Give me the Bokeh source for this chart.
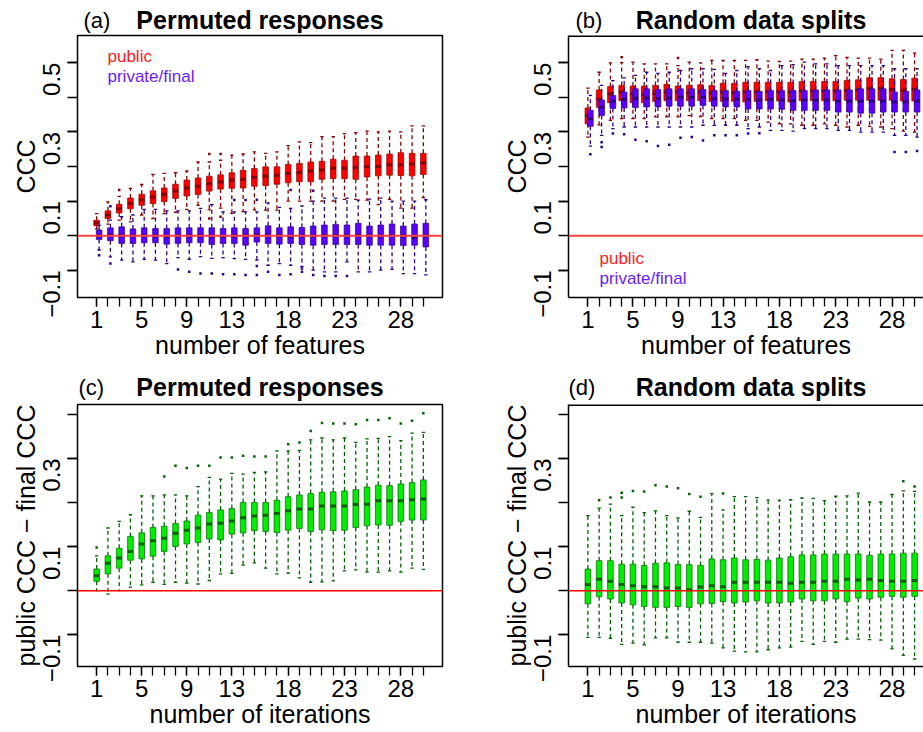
import math
from bokeh.plotting import figure
from bokeh.layouts import row, column
from bokeh.models import FixedTicker, Range1d, Label, Span
from bokeh.core.properties import value
from bokeh.embed import file_html
from bokeh.resources import INLINE

# ---------------- data ----------------
features = list(range(1, 31))
x_tick_labels = [1, 5, 9, 13, 18, 23, 28]

# (a) permuted responses, public
a_pub_lo = [.020, .034, .045, .040, .060, .050, .064, .068, .076, .088, .075, .080, .065, .070, .075,
            .074, .074, .100, .100, .100, .100, .100, .105, .105, .103, .090, .105, .080, .080, .110]
a_pub_q1 = [.029, .050, .066, .078, .088, .093, .099, .108, .115, .119, .129, .135, .137, .138, .143,
            .145, .149, .153, .156, .156, .163, .165, .165, .163, .170, .173, .175, .174, .173, .177]
a_pub_med = [.037, .060, .078, .093, .104, .112, .120, .129, .138, .143, .150, .155, .160, .163, .168,
             .172, .175, .180, .183, .187, .190, .195, .195, .197, .200, .200, .205, .205, .207, .210]
a_pub_q3 = [.045, .072, .091, .109, .120, .130, .138, .149, .161, .167, .172, .176, .182, .189, .194,
            .199, .199, .206, .209, .213, .215, .221, .218, .230, .230, .233, .236, .240, .238, .238]
a_pub_hi = [.064, .098, .114, .137, .148, .177, .180, .182, .187, .213, .213, .218, .233, .236, .242,
            .238, .242, .260, .271, .269, .286, .286, .295, .298, .302, .300, .302, .300, .317, .317]
a_pub_out_k = [3, 11, 12, 11, 12]
a_pub_out_v = [.132, .236, .236, .050, .055]

# (a) permuted responses, private/final
a_prv_lo = [-.041, -.061, -.070, -.075, -.068, -.070, -.080, -.063, -.068, -.060, -.065, -.063, -.066, -.068, -.070,
            -.085, -.080, -.085, -.089, -.099, -.104, -.104, -.075, -.104, -.104, -.099, -.097, -.109, -.109, -.113]
a_prv_q1 = [-.011, -.014, -.022, -.022, -.020, -.020, -.024, -.022, -.020, -.020, -.025, -.022, -.022, -.027, -.018,
            -.022, -.024, -.022, -.025, -.027, -.025, -.025, -.025, -.025, -.027, -.027, -.027, -.028, -.027, -.032]
a_prv_med = [.000, .002, .000, .000, .001, .000, -.001, .000, .001, .000, .000, -.001, .000, .000, .002,
             .002, .000, -.002, .000, .000, .001, .001, .000, .001, .000, .000, .001, .000, -.005, .000]
a_prv_q3 = [.017, .023, .026, .020, .023, .021, .021, .023, .023, .023, .023, .021, .023, .021, .023,
            .029, .023, .026, .024, .028, .031, .033, .031, .036, .028, .031, .034, .028, .034, .036]
a_prv_hi = [.030, .045, .055, .060, .076, .076, .072, .072, .072, .079, .090, .069, .069, .069, .069,
            .095, .082, .079, .086, .100, .109, .109, .109, .103, .106, .109, .100, .100, .100, .104]
a_prv_out_k = [1, 2, 8, 9, 10, 11, 12, 13, 14, 15, 15, 16, 17, 18, 19, 19, 20, 21, 22, 23,
               2, 13, 14, 15, 18, 20]
a_prv_out_v = [-.056, -.080, -.097, -.104, -.109, -.109, -.111, -.111, -.113, -.087, -.113, -.104, -.113, -.111,
               -.094, -.104, -.113, -.116, -.116, -.116,
               .085, .103, .103, .104, .132, .130]

# (b) random data splits, public
b_pub_lo = [.285, .320, .333, .338, .338, .338, .343, .343, .343, .347, .344, .338, .338, .338, .333,
            .333, .328, .323, .323, .319, .319, .323, .319, .314, .319, .316, .314, .309, .302, .299]
b_pub_q1 = [.323, .371, .384, .390, .384, .384, .388, .390, .390, .390, .390, .388, .388, .388, .386,
            .388, .390, .389, .386, .390, .390, .390, .390, .391, .391, .391, .391, .391, .389, .389]
b_pub_med = [.347, .395, .410, .415, .410, .408, .410, .415, .415, .413, .415, .412, .415, .413, .415,
             .415, .416, .416, .415, .418, .418, .418, .418, .420, .422, .425, .425, .422, .420, .422]
b_pub_q3 = [.369, .421, .431, .434, .432, .432, .434, .437, .432, .434, .436, .434, .440, .440, .443,
            .443, .443, .443, .443, .445, .445, .445, .445, .448, .450, .456, .456, .453, .451, .455]
b_pub_hi = [.426, .472, .499, .500, .501, .496, .496, .496, .491, .501, .499, .506, .506, .506, .506,
            .508, .504, .503, .504, .510, .510, .513, .520, .515, .513, .513, .510, .535, .535, .527]
b_pub_out_k = [4, 9]
b_pub_out_v = [.515, .513]

# (b) random data splits, private/final
b_prv_lo = [.259, .290, .309, .314, .314, .314, .314, .314, .314, .314, .319, .319, .319, .319, .309,
            .314, .304, .304, .302, .309, .309, .309, .304, .304, .299, .299, .299, .290, .290, .285]
b_prv_q1 = [.316, .347, .367, .369, .370, .372, .372, .374, .374, .374, .376, .374, .372, .372, .366,
            .366, .366, .365, .362, .362, .362, .362, .357, .357, .354, .354, .357, .357, .357, .357]
b_prv_med = [.338, .370, .388, .393, .397, .398, .396, .398, .400, .400, .399, .396, .395, .394, .393,
             .392, .393, .392, .390, .392, .392, .392, .389, .389, .388, .388, .390, .386, .387, .389]
b_prv_q3 = [.362, .392, .405, .415, .424, .424, .422, .424, .424, .424, .422, .419, .419, .417, .419,
            .417, .419, .419, .419, .419, .421, .421, .421, .421, .424, .424, .424, .415, .417, .421]
b_prv_hi = [.405, .434, .448, .456, .463, .472, .469, .472, .477, .482, .482, .480, .469, .477, .488,
            .482, .477, .491, .494, .501, .496, .496, .491, .491, .491, .491, .491, .482, .482, .482]
b_prv_out_k = [1, 2, 2, 3, 4, 5, 6, 7, 8, 9, 10, 11, 12, 13, 14, 15, 16, 28, 29, 30]
b_prv_out_v = [.235, .270, .256, .295, .293, .277, .273, .259, .263, .283, .285, .275, .290, .290, .290,
               .295, .296, .242, .242, .245]

# (c) permuted responses, public - final
c_lo = [.000, -.008, .000, .008, .013, .019, .014, .019, .017, .015, .023, .038, .039, .058, .063,
        .051, .038, .040, .029, .019, .020, .022, .045, .047, .042, .042, .045, .042, .051, .048]
c_q1 = [.021, .038, .051, .069, .072, .078, .089, .100, .106, .109, .117, .115, .128, .131, .136,
        .134, .132, .137, .141, .134, .138, .136, .137, .143, .147, .149, .148, .157, .160, .160]
c_med = [.034, .062, .074, .089, .106, .113, .119, .130, .137, .142, .151, .153, .158, .165, .169,
         .171, .175, .181, .185, .185, .192, .192, .192, .195, .196, .204, .204, .204, .206, .208]
c_q3 = [.049, .079, .096, .123, .131, .143, .146, .152, .158, .171, .177, .183, .186, .200, .200,
        .200, .205, .213, .217, .220, .223, .224, .226, .229, .235, .239, .238, .242, .245, .251]
c_hi = [.079, .142, .157, .172, .215, .215, .217, .217, .215, .236, .257, .253, .266, .264, .268,
        .269, .317, .317, .318, .342, .346, .342, .346, .336, .344, .345, .349, .340, .357, .359]
c_out_k = [1, 7, 8, 9, 10, 11, 12, 13, 14, 15, 16, 18, 19, 20, 21, 22, 23, 24, 25, 26, 27, 28, 29, 30]
c_out_v = [.098, .259, .283, .278, .283, .283, .302, .302, .306, .304, .304, .332, .336, .362, .380,
           .379, .379, .377, .387, .387, .391, .379, .385, .402]

# (d) random data splits, public - final
d_lo = [-.106, -.106, -.108, -.122, -.119, -.123, -.107, -.107, -.117, -.117, -.117, -.119, -.130, -.137, -.139,
        -.139, -.134, -.130, -.128, -.115, -.122, -.115, -.117, -.110, -.110, -.111, -.112, -.132, -.147, -.155]
d_q1 = [-.030, -.014, -.019, -.028, -.032, -.036, -.038, -.038, -.036, -.038, -.030, -.029, -.025, -.028, -.026,
        -.023, -.028, -.028, -.026, -.019, -.023, -.023, -.019, -.025, -.017, -.019, -.015, -.013, -.015, -.013]
d_med = [.014, .026, .021, .014, .011, .009, .009, .006, .006, .002, .008, .011, .009, .019, .019,
         .019, .019, .019, .017, .019, .019, .021, .021, .026, .024, .026, .023, .021, .021, .023]
d_q3 = [.049, .068, .068, .060, .060, .057, .062, .063, .059, .059, .057, .072, .070, .074, .070,
        .071, .069, .074, .077, .081, .081, .083, .083, .083, .083, .080, .083, .083, .085, .085]
d_hi = [.170, .187, .196, .170, .189, .177, .181, .170, .165, .180, .166, .220, .183, .213, .213,
        .211, .205, .205, .206, .210, .209, .204, .214, .215, .221, .201, .201, .218, .226, .225]
d_out_k = [2, 3, 4, 4, 5, 6, 7, 8, 9, 10, 11, 13, 29, 30]
d_out_v = [.205, .211, .211, .222, .226, .225, .239, .236, .232, .219, .213, .220, .248, .236]

ccc_ticks = [-0.1, 0.0, 0.1, 0.2, 0.3, 0.4, 0.5]
ccc_labels = {-0.1: "\u22120.1", 0.1: "0.1", 0.3: "0.3", 0.5: "0.5"}
diff_ticks = [-0.1, 0.0, 0.1, 0.2, 0.3, 0.4]
diff_labels = {-0.1: "\u22120.1", 0.1: "0.1", 0.3: "0.3"}

panel_tags = ["(a)", "(b)", "(c)", "(d)"]
panel_titles = ["Permuted responses", "Random data splits", "Permuted responses", "Random data splits"]
x_titles = ["number of features", "number of iterations"]
y_titles = ["CCC", "public CCC \u2212 final CCC"]

# ---------------- style ----------------
FONT = "Liberation Sans"
PUB_FILL, PUB_LINE = "#ff0000", "#8b0000"
PRV_FILL, PRV_LINE = "#5a00ff", "#2e0088"
GRN_FILL, GRN_LINE = "#00ee00", "#006400"
BOXW = 0.5
STAPLE = 0.15
TICK_FS = "24px"
LAB_FS = "25px"
TITLE_FS = "25px"


def add_boxes(p, k, lo, q1, med, q3, hi, ok, ov, fill, line, shift=0.0):
    x = [v + shift for v in k]
    p.segment(x0=x, y0=q3, x1=x, y1=hi, line_color=line, line_width=1.3, line_dash="4 3")
    p.segment(x0=x, y0=q1, x1=x, y1=lo, line_color=line, line_width=1.3, line_dash="4 3")
    p.segment(x0=[v - STAPLE for v in x], y0=hi, x1=[v + STAPLE for v in x], y1=hi,
              line_color=line, line_width=1.3)
    p.segment(x0=[v - STAPLE for v in x], y0=lo, x1=[v + STAPLE for v in x], y1=lo,
              line_color=line, line_width=1.3)
    p.quad(left=[v - BOXW / 2 for v in x], right=[v + BOXW / 2 for v in x], bottom=q1, top=q3,
           fill_color=fill, line_color=line, line_width=1, line_alpha=0.7)
    p.segment(x0=[v - BOXW / 2 for v in x], y0=med, x1=[v + BOXW / 2 for v in x], y1=med,
              line_color=line, line_width=3)
    p.scatter(x=[v + shift for v in ok], y=ov, size=2.5, marker="square",
              fill_color=line, line_color=None)


def make_fig(width, bl, br, frame_h, bb, xr, yr, yticks, ylabels, xtitle, ytitle, clipped):
    p = figure(width=width, height=2 + frame_h + bb, x_range=Range1d(*xr), y_range=Range1d(*yr),
               output_backend="svg", toolbar_location=None, title=None,
               min_border_left=bl, min_border_right=br, min_border_top=2, min_border_bottom=bb)
    p.grid.visible = False
    p.background_fill_color = "white"
    p.border_fill_color = "white"
    if clipped:
        p.outline_line_color = None
        p.add_layout(Span(location=yr[1], dimension="width", line_color="black", line_width=3))
    else:
        p.outline_line_color = "black"
        p.outline_line_width = 1.5
    for ax in (p.xaxis[0], p.yaxis[0]):
        ax.major_tick_in = 0
        ax.minor_tick_in = 0
        ax.major_tick_line_color = "black"
        ax.minor_tick_line_color = "black"
        ax.major_tick_line_width = 1.3
        ax.minor_tick_line_width = 1.3
        ax.major_label_text_font = FONT
        ax.major_label_text_font_size = TICK_FS
        ax.major_label_text_color = "black"
        ax.axis_label_text_font = FONT
        ax.axis_label_text_font_size = LAB_FS
        ax.axis_label_text_font_style = "normal"
        ax.axis_label_text_color = "black"
        if clipped:
            ax.axis_line_color = "black"
            ax.axis_line_width = 1.5
        else:
            ax.axis_line_color = None
    p.xaxis.ticker = FixedTicker(ticks=x_tick_labels, minor_ticks=features)
    p.xaxis.major_tick_out = 9
    p.xaxis.minor_tick_out = 9
    p.xaxis.major_label_standoff = 4
    p.xaxis.axis_label = xtitle
    p.xaxis.axis_label_standoff = 0
    p.yaxis.ticker = FixedTicker(ticks=list(ylabels.keys()), minor_ticks=yticks)
    p.yaxis.major_label_overrides = ylabels
    p.yaxis.major_tick_out = 10
    p.yaxis.minor_tick_out = 10
    p.yaxis.major_label_orientation = math.pi / 2
    p.yaxis.major_label_standoff = 16
    p.yaxis.axis_label = ytitle
    p.yaxis.axis_label_standoff = -8
    return p


def legend(p, x, y_pub):
    p.add_layout(Label(x=x, y=y_pub, x_units="screen", y_units="screen", text="public",
                       text_font=FONT, text_font_size="17px", text_color="#ff1a1a",
                       text_baseline="middle"))
    p.add_layout(Label(x=x, y=y_pub - 20, x_units="screen", y_units="screen", text="private/final",
                       text_font=FONT, text_font_size="17px", text_color="#6a1bff",
                       text_baseline="middle"))


def title_strip(height, tags, tag_x, tag_y, titles, title_x, title_y):
    s = figure(width=923, height=height, x_range=Range1d(0, 923), y_range=Range1d(0, height),
               output_backend="svg", toolbar_location=None, x_axis_location=None, y_axis_location=None,
               title=None, min_border=0, min_border_left=0, min_border_right=0,
               min_border_top=0, min_border_bottom=0)
    s.grid.visible = False
    s.outline_line_color = None
    s.border_fill_color = "white"
    s.text(x=tag_x, y=[tag_y] * len(tags), text=tags, text_font=value(FONT), text_font_size=value("22px"),
           text_align=value("left"), text_baseline=value("middle"), text_color="black")
    s.text(x=title_x, y=[title_y] * len(titles), text=titles, text_font=value(FONT),
           text_font_size=value(TITLE_FS), text_font_style=value("bold"),
           text_align=value("center"), text_baseline=value("middle"), text_color="black")
    return s


XR_L = (-0.7, 31.7)
XR_R = (-0.72, 30.79)
YR_CCC = (-0.178, 0.578)
YR_DIFF = (-0.172, 0.422)

pa = make_fig(460, 77, 18, 262, 68, XR_L, YR_CCC, ccc_ticks, ccc_labels, x_titles[0], y_titles[0], False)
pb = make_fig(463, 108, 0, 262, 68, XR_R, YR_CCC, ccc_ticks, ccc_labels, x_titles[0], y_titles[0], True)
pc = make_fig(460, 77, 18, 262, 66, XR_L, YR_DIFF, diff_ticks, diff_labels, x_titles[1], y_titles[1], False)
pd = make_fig(463, 108, 0, 262, 66, XR_R, YR_DIFF, diff_ticks, diff_labels, x_titles[1], y_titles[1], True)

add_boxes(pa, features, a_pub_lo, a_pub_q1, a_pub_med, a_pub_q3, a_pub_hi, a_pub_out_k, a_pub_out_v,
          PUB_FILL, PUB_LINE)
add_boxes(pa, features, a_prv_lo, a_prv_q1, a_prv_med, a_prv_q3, a_prv_hi, a_prv_out_k, a_prv_out_v,
          PRV_FILL, PRV_LINE, shift=0.22)
add_boxes(pb, features, b_pub_lo, b_pub_q1, b_pub_med, b_pub_q3, b_pub_hi, b_pub_out_k, b_pub_out_v,
          PUB_FILL, PUB_LINE)
add_boxes(pb, features, b_prv_lo, b_prv_q1, b_prv_med, b_prv_q3, b_prv_hi, b_prv_out_k, b_prv_out_v,
          PRV_FILL, PRV_LINE, shift=0.22)
add_boxes(pc, features, c_lo, c_q1, c_med, c_q3, c_hi, c_out_k, c_out_v, GRN_FILL, GRN_LINE)
add_boxes(pd, features, d_lo, d_q1, d_med, d_q3, d_hi, d_out_k, d_out_v, GRN_FILL, GRN_LINE)

for p in (pa, pb):
    p.add_layout(Span(location=0, dimension="width", line_color="#ff4040", line_width=2))
for p in (pc, pd):
    p.add_layout(Span(location=0, dimension="width", line_color="#ff0000", line_width=1.5))

legend(pa, 30, 262 - 21)
legend(pb, 31, 262 - 223)

strip1 = title_strip(33, panel_tags[:2], [83, 575], 13, panel_titles[:2], [259.5, 750.5], 13.5)
strip2 = title_strip(37, panel_tags[2:], [78, 568], 15, panel_titles[2:], [259.5, 750.5], 15.5)

layout = column(strip1, row(pa, pb), strip2, row(pc, pd))
open("out.html", "w").write(file_html(layout, INLINE))
